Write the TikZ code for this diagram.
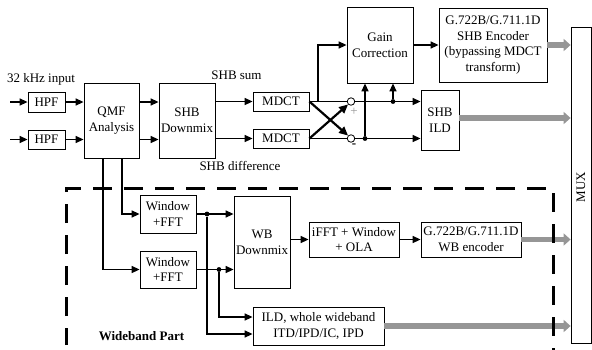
\documentclass[tikz,border=0pt]{standalone}
\usepackage{fontspec}
\setmainfont{Liberation Serif}
\usetikzlibrary{arrows.meta,calc}
\definecolor{gbar}{RGB}{150,150,150}
\tikzset{
  box/.style={draw, line width=0.8pt, inner sep=0pt, align=center, font=\fontsize{13}{15.8}\selectfont},
  lbl/.style={inner sep=0pt, font=\fontsize{13}{15.8}\selectfont},
  conn/.style={line width=1.4pt, -{Triangle[length=8pt,width=7pt]}},
  plain/.style={line width=1.4pt},
  cross/.style={line width=2.2pt, -{Triangle[length=9pt,width=8pt]}},
  gbarrow/.style={draw=gbar, line width=5.5pt, -{Triangle[length=7pt,width=12pt]}, gbar},
  dotn/.style={circle, fill=black, inner sep=0pt, minimum size=4.8pt},
  sumc/.style={circle, draw, line width=0.8pt, fill=white, inner sep=0pt, minimum size=7.5pt},
}
\begin{document}
\begin{tikzpicture}[x=1pt,y=-1pt]
\useasboundingbox (0,0) rectangle (592,349);
% boxes
\node[box, minimum width=37pt, minimum height=20pt] (hpf1) at (46.5,102) {HPF};
\node[box, minimum width=37pt, minimum height=19pt] (hpf2) at (46.5,139.5) {HPF};
\node[box, minimum width=55pt, minimum height=75pt] (qmf) at (111.5,120.5) {QMF\\Analysis};
\node[box, minimum width=56pt, minimum height=75pt] (shbd) at (187,120.5) {SHB\\Downmix};
\node[box, minimum width=56pt, minimum height=19pt] (mdct1) at (281,101.5) {MDCT};
\node[box, minimum width=56pt, minimum height=19pt] (mdct2) at (281,138.5) {MDCT};
\node[box, minimum width=66pt, minimum height=76pt] (gain) at (380,45) {Gain\\Correction};
\node[box, minimum width=108pt, minimum height=74pt] (shbenc) at (493,45) {G.722B/G.711.1D\\SHB Encoder\\(bypassing MDCT\\transform)};
\node[box, minimum width=38pt, minimum height=60pt] (shbild) at (440,120) {SHB\\ILD};
\node[box, minimum width=20pt, minimum height=316pt] (mux) at (581,185) {};
\node[lbl, rotate=90] (muxt) at (581,187) {MUX};
\node[box, minimum width=56pt, minimum height=38pt] (win1) at (168,214) {Window\\+FFT};
\node[box, minimum width=56pt, minimum height=37pt] (win2) at (168,269.5) {Window\\+FFT};
\node[box, minimum width=56pt, minimum height=92pt] (wbd) at (262,242) {WB\\Downmix};
\node[box, minimum width=90pt, minimum height=35pt] (ifft) at (354,239.5) {iFFT + Window\\+ OLA};
\node[box, minimum width=100pt, minimum height=35pt] (wbenc) at (471,239.5) {G.722B/G.711.1D\\WB encoder};
\node[box, minimum width=131pt, minimum height=38pt] (ild) at (318.5,326) {ILD, whole wideband\\ITD/IPD/IC, IPD};
% labels
\node[lbl] (tin) at (41,79) {32 kHz input};
\node[lbl] (tsum) at (236.5,75) {SHB sum};
\node[lbl] (tdiff) at (240,166) {SHB difference};
\node[lbl, font=\fontsize{13}{15.8}\selectfont\bfseries] (twb) at (141.5,336) {Wideband Part};
% inputs
\coordinate (in1) at (10,102);
\coordinate (in2) at (10,139.5);
\draw[conn] (in1) -- (hpf1.west);
\draw[conn] (in2) -- (hpf2.west);
\draw[conn] (hpf1.east) -- (qmf.west |- hpf1.east);
\draw[conn] (hpf2.east) -- (qmf.west |- hpf2.east);
\draw[conn] (qmf.east |- hpf1.east) -- (shbd.west |- hpf1.east);
\draw[conn] (qmf.east |- hpf2.east) -- (shbd.west |- hpf2.east);
\draw[conn] (shbd.east |- mdct1) -- (mdct1.west);
\draw[conn] (shbd.east |- mdct2) -- (mdct2.west);
% sum / difference
\node[sumc] (c1) at (351,101.5) {};
\node[sumc] (c2) at (351,138.5) {};
\draw[plain] (mdct1.east) -- (c1.west);
\draw[plain] (mdct2.east) -- (c2.west);
\draw[cross] (mdct1.east) -- (c2.north west);
\draw[cross] (mdct2.east) -- (c1.south west);
\node[lbl, text=gbar] (plus) at (354,112) {+};
\node[lbl] (minus) at (354,146) {\textbf{-}};
\coordinate (br1) at (318,101.5);
\draw[conn] (br1) |- (gain.west);
\node[dotn] (d1) at (393,101.5) {};
\node[dotn] (d2) at (365,138.5) {};
\draw[conn] (c1.east) -- (shbild.west |- c1);
\draw[conn] (c2.east) -- (shbild.west |- c2);
\draw[conn] (d1) -- (d1 |- gain.south);
\draw[conn] (d2) -- (d2 |- gain.south);
\draw[conn] (gain.east) -- (shbenc.west);
% wideband part
\coordinate (q1) at (103,158);
\coordinate (q2) at (122,158);
\draw[conn] (q2) |- (win1.west);
\draw[conn] (q1) |- (win2.west);
\node[dotn] (w1) at (207,214) {};
\node[dotn] (w2) at (219,269.5) {};
\draw[conn] (win1.east) -- (wbd.west |- win1);
\draw[conn] (win2.east) -- (wbd.west |- win2);
\coordinate (ildin1) at ($(ild.west)+(0,8)$);
\coordinate (ildin2) at ($(ild.west)+(0,-9)$);
\draw[conn] (w1) |- (ildin1);
\draw[conn] (w2) |- (ildin2);
\draw[conn] (wbd.east |- ifft) -- (ifft.west);
\draw[conn] (ifft.east) -- (wbenc.west);
% gray outputs
\draw[gbarrow] (shbenc.east) -- (mux.west |- shbenc.east);
\draw[gbarrow] (shbild.east |- 0,118) -- (mux.west |- 0,118);
\draw[gbarrow] (wbenc.east) -- (mux.west |- wbenc.east);
\draw[gbarrow] (ild.east) -- (mux.west |- ild.east);
% dashed region
\coordinate (dl) at (66,345);
\coordinate (dtl) at (66,188);
\coordinate (dtr) at (553,188);
\coordinate (dr) at (553,352);
\draw[line width=3pt, dash pattern=on 19pt off 12pt, dash phase=2pt] (dl) -- (dtl) -- (dtr) -- (dr);
\end{tikzpicture}
\end{document}
